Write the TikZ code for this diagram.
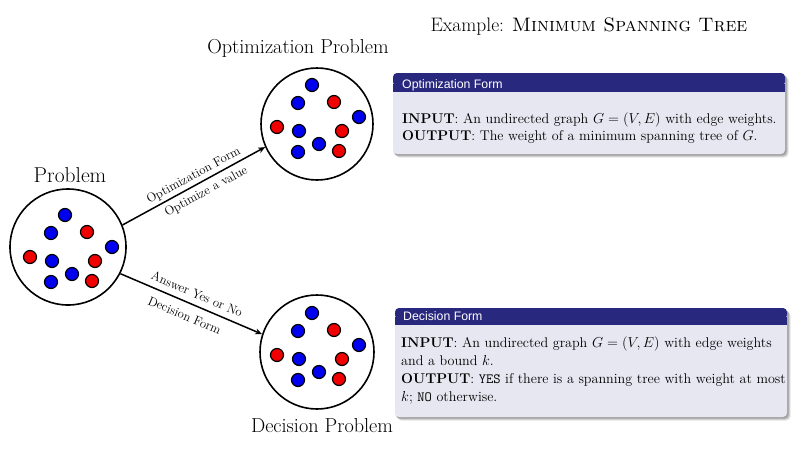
\documentclass[tikz,border=0pt]{standalone}
\usepackage{fontspec}
\newfontfamily\blocksans{Liberation Sans}
\usetikzlibrary{arrows.meta}
\definecolor{blocktitle}{HTML}{28287F}
\definecolor{blockbody}{HTML}{E7E7F1}
\definecolor{dotblue}{HTML}{0000F0}
\definecolor{dotred}{HTML}{F00000}

\tikzset{
  setcircle/.style={circle, draw=black, line width=1.6pt, inner sep=0pt},
  dotfill/.style={draw=black, line width=1.2pt},
  flow/.style={line width=1.5pt, -{Stealth[length=7pt,width=6pt]}},
  edgelabel/.style={font=\fontsize{12.7}{14}\selectfont, sloped},
  setlabel/.style={font=\fontsize{20.2}{24}\selectfont, anchor=base},
  blockhead/.style={font=\blocksans\fontsize{12.3}{14}\selectfont, text=white, anchor=base west, inner sep=0pt},
  blockline/.style={font=\fontsize{14.1}{17}\selectfont, anchor=base west, inner sep=0pt},
}

% ten coloured elements, placed around a given centre
\newcommand\elementcloud[2]{%
  \begin{scope}[shift={(#1,#2)}]
    \filldraw[dotfill, fill=dotblue] (-5,-39) circle (6.5pt);
    \filldraw[dotfill, fill=dotblue] (-19,-21) circle (6.5pt);
    \filldraw[dotfill, fill=dotred]  (17,-22) circle (6.5pt);
    \filldraw[dotfill, fill=dotblue] (42,-7) circle (6.5pt);
    \filldraw[dotfill, fill=dotred]  (-40,3) circle (6.5pt);
    \filldraw[dotfill, fill=dotblue] (-18,7) circle (6.5pt);
    \filldraw[dotfill, fill=dotred]  (25,7) circle (6.5pt);
    \filldraw[dotfill, fill=dotblue] (2,20) circle (6.5pt);
    \filldraw[dotfill, fill=dotblue] (-19,28) circle (6.5pt);
    \filldraw[dotfill, fill=dotred]  (22,27) circle (6.5pt);
  \end{scope}}

% beamer-like block: left, top, right, bottom of body, bottom of title bar
\newcommand\infoblock[5]{%
  \foreach \o/\a in {3.5/0.10, 2.5/0.14, 1.5/0.18}
    \fill[black, opacity=\a, rounded corners=4pt] (#1+\o-1,#2+\o) rectangle (#3+\o,#4+\o);
  \fill[blockbody, rounded corners=4pt] (#1,#2) rectangle (#3,#4);
  \fill[blocktitle, rounded corners=4pt] (#1,#2) rectangle (#3,#5-6);
  \fill[blocktitle] (#1,#5-8) rectangle (#3,#5);}

\begin{document}
\begin{tikzpicture}[x=1pt, y=-1pt]
\useasboundingbox (0,0) rectangle (794,456);

% heading
\node[font=\fontsize{19.5}{23}\selectfont, anchor=base] (heading) at (589,31)
  {Example: \textsc{Minimum Spanning Tree}};

% the three sets
\node[setcircle, minimum size=116pt] (prob) at (68,247) {};
\node[setcircle, minimum size=112pt] (opt) at (317,124) {};
\node[setcircle, minimum size=114pt] (dec) at (317,352) {};
\elementcloud{70}{254}
\elementcloud{317}{124}
\elementcloud{317}{352}

\node[setlabel, font=\fontsize{21.5}{25}\selectfont] (problabel) at (70,182) {Problem};
\node[setlabel] (optlabel) at (298,53) {Optimization Problem};
\node[setlabel] (declabel) at (322,432) {Decision Problem};

% reductions between the forms
\draw[flow] (prob.22) -- (opt.204)
  node[edgelabel, pos=0.53, above, inner sep=2.5pt] (optform) {Optimization Form}
  node[edgelabel, pos=0.55, below, inner sep=4.5pt] (optvalue) {Optimize a value};
\draw[flow] (prob.-27) -- (dec.162)
  node[edgelabel, pos=0.51, above, inner sep=6pt] (yesno) {Answer Yes or No}
  node[edgelabel, pos=0.49, below, inner sep=8pt] (decform) {Decision Form};

% optimization form block
\infoblock{393}{73}{785}{154}{92}
\node[blockhead] (opthead) at (402,88) {Optimization Form};
\node[blockline] (optin) at (402,123)
  {\textbf{INPUT}:\ An undirected graph $G=(V,E)$ with edge weights.};
\node[blockline] (optout) at (402,140)
  {\textbf{OUTPUT}:\ The weight of a minimum spanning tree of $G$.};

% decision form block
\infoblock{395}{308}{787}{417}{325}
\node[blockhead] (dechead) at (403,320) {Decision Form};
\node[blockline] (decin) at (401,347)
  {\textbf{INPUT}:\ An undirected graph $G=(V,E)$ with edge weights};
\node[blockline] (decin2) at (401,365) {and a bound $k$.};
\node[blockline] (decout) at (401,383)
  {\textbf{OUTPUT}:\ \texttt{YES} if there is a spanning tree with weight at most};
\node[blockline] (decout2) at (401,401) {$k$; \texttt{NO} otherwise.};
\end{tikzpicture}
\end{document}
